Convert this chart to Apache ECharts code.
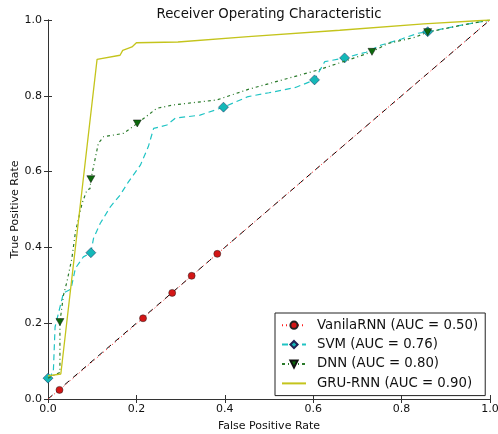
<!DOCTYPE html>
<html><head><meta charset="utf-8">
<script src="https://cdn.jsdelivr.net/npm/echarts@6/dist/echarts.min.js"></script>
<style>html,body{margin:0;padding:0;background:#fff}#c{width:498px;height:434px}</style>
</head><body><div id="c"></div>
<script>
const titleText = 'Receiver Operating Characteristic';
const xLabel = 'False Positive Rate';
const yLabel = 'True Positive Rate';
const seriesNames = ['VanilaRNN (AUC = 0.50)', 'SVM (AUC = 0.76)', 'DNN (AUC = 0.80)', 'GRU-RNN (AUC = 0.90)'];

const chanceFpr = [0, 1];
const chanceTpr = [0, 1];

const vanilaFpr = [0, 0.026, 0.215, 0.281, 0.325, 0.383, 1];
const vanilaTpr = [0, 0.024, 0.213, 0.280, 0.325, 0.383, 1];
const vanilaMarks = [1, 2, 3, 4, 5];

const svmFpr = [0, 0.012, 0.016, 0.035, 0.052, 0.062, 0.080, 0.097, 0.103, 0.118, 0.141, 0.163, 0.182, 0.209, 0.227, 0.239, 0.269, 0.288, 0.344, 0.397, 0.453, 0.500, 0.560, 0.603, 0.626, 0.671, 0.720, 0.754, 0.800, 0.837, 0.859, 0.930, 1];
const svmTpr = [0.055, 0.070, 0.190, 0.280, 0.290, 0.345, 0.375, 0.386, 0.424, 0.463, 0.507, 0.538, 0.573, 0.617, 0.666, 0.714, 0.723, 0.741, 0.749, 0.770, 0.798, 0.808, 0.822, 0.842, 0.890, 0.900, 0.915, 0.934, 0.950, 0.965, 0.969, 0.985, 1];
const svmMarks = [0, 7, 19, 23, 25, 30];

const dnnFpr = [0, 0.027, 0.027, 0.035, 0.043, 0.054, 0.062, 0.077, 0.088, 0.095, 0.097, 0.103, 0.114, 0.126, 0.171, 0.202, 0.246, 0.284, 0.382, 0.453, 0.611, 0.678, 0.733, 0.769, 0.829, 0.859, 0.930, 1];
const dnnTpr = [0.055, 0.070, 0.203, 0.274, 0.310, 0.371, 0.440, 0.516, 0.551, 0.555, 0.580, 0.613, 0.675, 0.692, 0.701, 0.727, 0.767, 0.776, 0.789, 0.817, 0.868, 0.894, 0.916, 0.938, 0.954, 0.968, 0.985, 1];
const dnnMarks = [2, 10, 15, 22, 25];

const gruFpr = [0, 0.029, 0.111, 0.163, 0.169, 0.190, 0.200, 0.294, 0.453, 0.660, 0.850, 1];
const gruTpr = [0.061, 0.066, 0.896, 0.907, 0.920, 0.929, 0.940, 0.942, 0.956, 0.973, 0.990, 1];

const tickValues = [0, 0.2, 0.4, 0.6, 0.8, 1.0];

const FONT = 'DejaVu Sans';

function pts(xs, ys, marks) {
  return xs.map((x, i) => {
    const item = { value: [x, ys[i]] };
    if (marks && !marks.includes(i)) item.symbol = 'none';
    return item;
  });
}

const axisCommon = {
  type: 'value', min: 0, max: 1, interval: 0.2,
  splitLine: { show: false },
  axisLine: { show: true, lineStyle: { color: '#333', width: 1 } },
  axisTick: { show: true, inside: true, length: 4, lineStyle: { color: '#333' } }
};

const chart = echarts.init(document.getElementById('c'), null, { renderer: 'canvas' });
chart.setOption({
  animation: false,
  backgroundColor: '#fff',
  title: {
    text: titleText, left: 264, top: 3, textAlign: 'center',
    textStyle: { fontFamily: FONT, fontSize: 13.3, fontWeight: 'normal', color: '#111' }
  },
  grid: { left: 48, right: 8, top: 20, bottom: 35, containLabel: false, outerBoundsMode: 'none' },
  xAxis: [
    Object.assign({}, axisCommon, {
      position: 'bottom',
      name: xLabel, nameLocation: 'middle', nameGap: 22, nameMoveOverlap: false,
      nameTextStyle: { fontFamily: FONT, fontSize: 11, color: '#111' },
      axisLabel: { margin: 5, fontFamily: FONT, fontSize: 11, color: '#111', formatter: v => v.toFixed(1) }
    }),
    Object.assign({}, axisCommon, { position: 'top', axisLabel: { show: false } })
  ],
  yAxis: [
    Object.assign({}, axisCommon, {
      position: 'left',
      name: yLabel, nameLocation: 'middle', nameGap: 27, nameMoveOverlap: false,
      nameTextStyle: { fontFamily: FONT, fontSize: 11, color: '#111' },
      axisLabel: { margin: 6, fontFamily: FONT, fontSize: 11, color: '#111', formatter: v => v.toFixed(1) }
    }),
    Object.assign({}, axisCommon, { position: 'right', axisLabel: { show: false } })
  ],
  legend: {
    orient: 'vertical', left: 275, top: 313,
    data: [
      { name: seriesNames[0] },
      { name: seriesNames[1] },
      { name: seriesNames[2] },
      { name: seriesNames[3], itemStyle: { opacity: 0 } }
    ],
    backgroundColor: '#fff', borderColor: '#222', borderWidth: 1, borderRadius: 0,
    padding: [5, 7, 5, 6], itemGap: 5, itemWidth: 24, itemHeight: 9,
    textStyle: { fontFamily: FONT, fontSize: 13.3, lineHeight: 14.4, color: '#111', padding: [0, 0, 0, 6] }
  },
  series: [
    {
      name: 'chance', type: 'line', data: pts(chanceFpr, chanceTpr), symbol: 'none', silent: true,
      lineStyle: { color: '#000', width: 1, type: [6, 5] }, z: 1
    },
    {
      name: seriesNames[0], type: 'line', data: pts(vanilaFpr, vanilaTpr, vanilaMarks),
      symbol: 'circle', symbolSize: 7, showAllSymbol: true, color: '#d41616',
      itemStyle: { color: '#d41616', borderColor: '#222', borderWidth: 0.5 },
      lineStyle: { color: '#ff2020', width: 1, type: [1, 3] }, z: 2
    },
    {
      name: seriesNames[1], type: 'line', data: pts(svmFpr, svmTpr, svmMarks),
      symbol: 'diamond', symbolSize: 10, showAllSymbol: true, color: '#00bfbf',
      itemStyle: { color: '#14b8b8', borderColor: '#225', borderWidth: 0.5 },
      lineStyle: { color: '#20c4c4', width: 1.2, type: [6, 4] }, z: 3
    },
    {
      name: seriesNames[2], type: 'line', data: pts(dnnFpr, dnnTpr, dnnMarks),
      symbol: 'triangle', symbolRotate: 180, symbolSize: [8, 7], showAllSymbol: true, color: '#0d6a0d',
      itemStyle: { color: '#0d6a0d', borderColor: '#111', borderWidth: 0.5 },
      lineStyle: { color: '#2a7a2a', width: 1.2, type: [3, 3, 1, 3] }, z: 4
    },
    {
      name: seriesNames[3], type: 'line', data: pts(gruFpr, gruTpr), symbol: 'none', color: '#c4c41c',
      lineStyle: { color: '#c4c41c', width: 1.3, type: 'solid' }, z: 5
    }
  ]
});
</script>
</body></html>
